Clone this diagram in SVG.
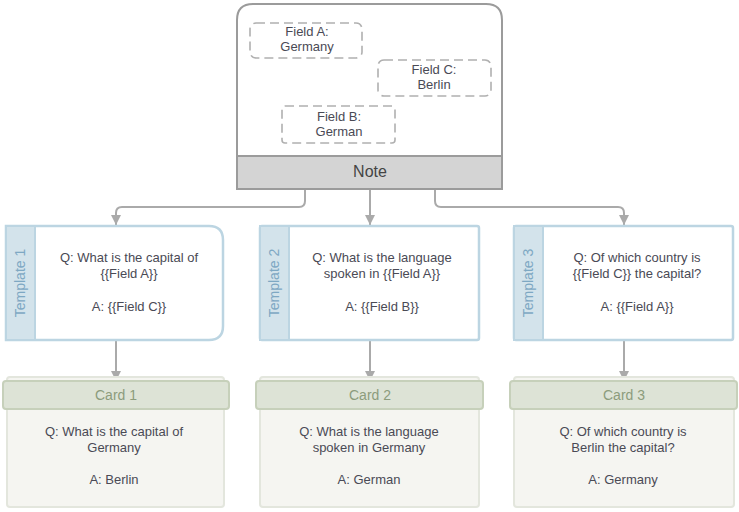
<svg xmlns="http://www.w3.org/2000/svg" width="739" height="512" viewBox="0 0 739 512">
<defs>
<marker id="arr" viewBox="0 0 10 10" refX="10" refY="5" markerWidth="10" markerHeight="10" markerUnits="userSpaceOnUse" orient="auto">
<path d="M0,0 L10,5 L0,10 Z" fill="#aaaaaa"/>
</marker>
<style>
text{font-family:"Liberation Sans",Arial,sans-serif;font-size:13px;fill:#4a4a55;text-anchor:middle}
.conn{fill:none;stroke:#aaaaaa;stroke-width:2}
.field{fill:none;stroke:#b0b0b0;stroke-width:1.6;stroke-dasharray:9,5}
.tpl{fill:#ffffff;stroke:#bcd5e2;stroke-width:2.5}
.band{fill:#d3e3eb;stroke:#bcd5e2;stroke-width:2}
.tlabel{fill:#7ea8c3;font-size:14px}
.cbody{fill:#f5f5f1;stroke:#e3e6dd;stroke-width:2}
.chead{fill:#dde3d6;stroke:#c6d0ba;stroke-width:2}
.clabel{fill:#8c9c7c;font-size:14px}
</style>
</defs>

<g id="connectors">
<path class="conn" d="M305,189 V201 Q305,207 299,207 H122 Q116,207 116,213 V225" marker-end="url(#arr)"/>
<path class="conn" d="M370,189 V225" marker-end="url(#arr)"/>
<path class="conn" d="M435,189 V201 Q435,207 441,207 H618 Q624,207 624,213 V225" marker-end="url(#arr)"/>
<path class="conn" d="M116,340 V381" marker-end="url(#arr)"/>
<path class="conn" d="M370,340 V381" marker-end="url(#arr)"/>
<path class="conn" d="M624,340 V381" marker-end="url(#arr)"/>
</g>

<g id="note">
<path d="M237,189 V20 Q237,4 253,4 H486 Q502,4 502,20 V189 Z" fill="#ffffff" stroke="#9b9b9b" stroke-width="2"/>
<rect x="237" y="156" width="265" height="33" fill="#d4d4d4" stroke="#9b9b9b" stroke-width="2"/>
<text x="370" y="177" style="font-size:16px;fill:#444">Note</text>
</g>
<g id="fieldA">
<rect class="field" x="250" y="23" width="112" height="35" rx="6"/>
<text x="307" y="36">Field A:</text>
<text x="307" y="51">Germany</text>
</g>
<g id="fieldC">
<rect class="field" x="378" y="60" width="113" height="36" rx="6"/>
<text x="434" y="74">Field C:</text>
<text x="434" y="89">Berlin</text>
</g>
<g id="fieldB">
<rect class="field" x="282" y="106" width="113" height="37" rx="3"/>
<text x="339" y="121">Field B:</text>
<text x="339" y="136">German</text>
</g>

<g id="template1">
<path class="tpl" d="M6,226 H209 Q223,226 223,240 V326 Q223,340 209,340 H6 Z"/>
<rect class="band" x="6" y="226" width="29" height="114"/>
<text class="tlabel" transform="translate(25,283) rotate(-90)">Template 1</text>
<text x="129" y="262">Q: What is the capital of</text>
<text x="129" y="278">{{Field A}}</text>
<text x="129" y="311">A: {{Field C}}</text>
</g>
<g id="template2">
<rect class="tpl" x="260" y="226" width="219" height="114" rx="2"/>
<rect class="band" x="260" y="226" width="29" height="114"/>
<text class="tlabel" transform="translate(279,283) rotate(-90)">Template 2</text>
<text x="382" y="262">Q: What is the language</text>
<text x="382" y="278">spoken in {{Field A}}</text>
<text x="382" y="311">A: {{Field B}}</text>
</g>
<g id="template3">
<rect class="tpl" x="514" y="226" width="219" height="114" rx="2"/>
<rect class="band" x="514" y="226" width="29" height="114"/>
<text class="tlabel" transform="translate(533,283) rotate(-90)">Template 3</text>
<text x="637" y="262">Q: Of which country is</text>
<text x="637" y="278">{{Field C}} the capital?</text>
<text x="637" y="311">A: {{Field A}}</text>
</g>

<g id="card1">
<rect class="cbody" x="7" y="377" width="217" height="130" rx="3"/>
<rect class="chead" x="3" y="381" width="226" height="28" rx="3"/>
<text class="clabel" x="116" y="400">Card 1</text>
<text x="114" y="436">Q: What is the capital of</text>
<text x="114" y="452">Germany</text>
<text x="114" y="484">A: Berlin</text>
</g>
<g id="card2">
<rect class="cbody" x="260" y="377" width="219" height="130" rx="3"/>
<rect class="chead" x="256" y="381" width="227" height="28" rx="3"/>
<text class="clabel" x="370" y="400">Card 2</text>
<text x="369" y="436">Q: What is the language</text>
<text x="369" y="452">spoken in Germany</text>
<text x="369" y="484">A: German</text>
</g>
<g id="card3">
<rect class="cbody" x="514" y="377" width="220" height="130" rx="3"/>
<rect class="chead" x="510" y="381" width="227" height="28" rx="3"/>
<text class="clabel" x="624" y="400">Card 3</text>
<text x="623" y="436">Q: Of which country is</text>
<text x="623" y="452">Berlin the capital?</text>
<text x="623" y="484">A: Germany</text>
</g>
</svg>
